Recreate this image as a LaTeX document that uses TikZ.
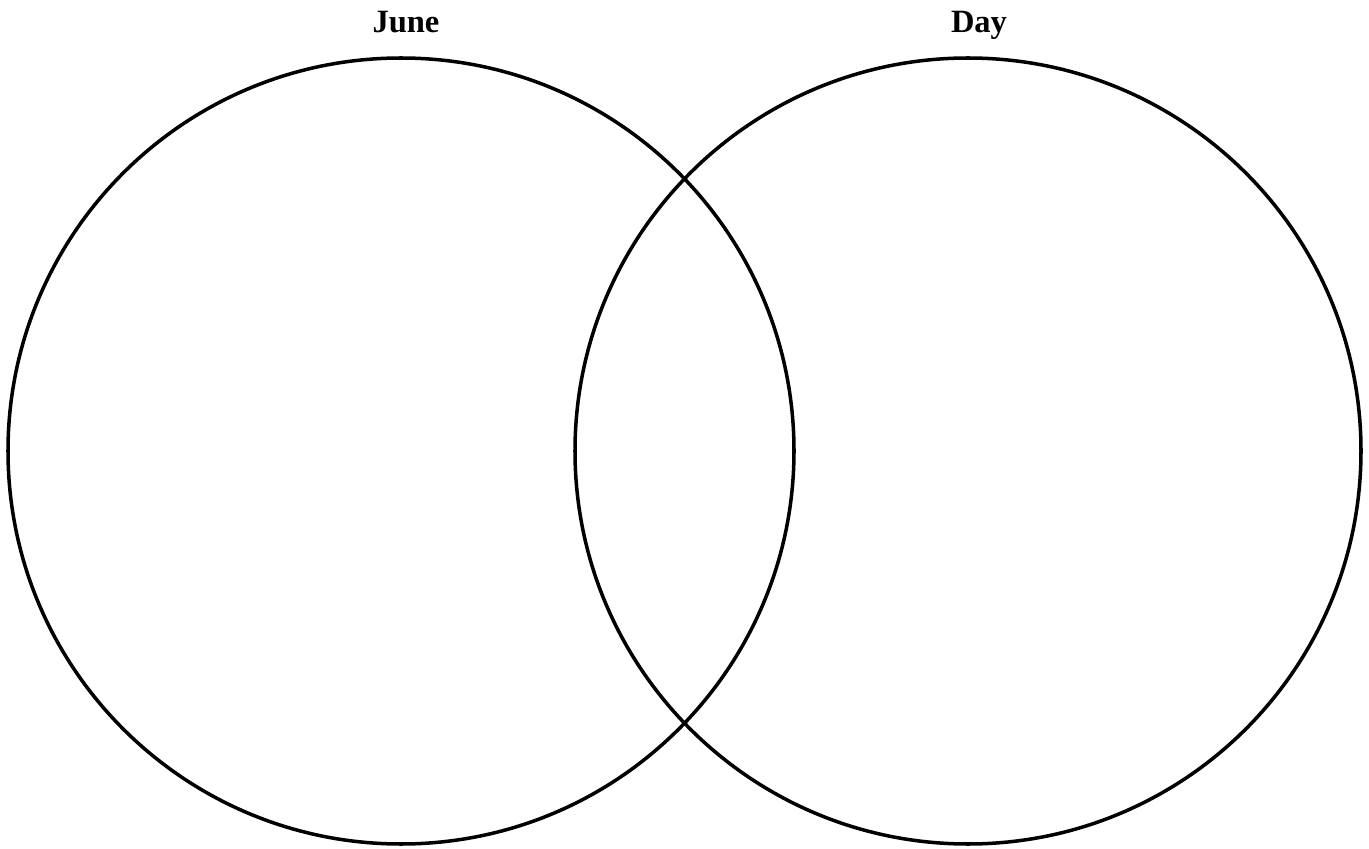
\documentclass[tikz,border=0pt]{standalone}
\usepackage{fontspec}
\setmainfont{Liberation Serif}
\usetikzlibrary{positioning}

\begin{document}
\begin{tikzpicture}[
        % Styles
        setcircle/.style={circle, draw=black, line width=2pt, minimum size=15.72cm, inner sep=0pt},
        settitle/.style={font=\bfseries\fontsize{18.5}{22}\selectfont, anchor=base}
    ]
    \useasboundingbox (0,0) rectangle (27.38,16.96);

    % ================= CIRCLES =================
    \node[setcircle] (june) at (8.02, 7.94) {};
    \node[setcircle] (day) at (19.36, 7.94) {};

    % ================= TITLES =================
    \node[settitle] (junetitle) at (8.12, 16.30) {June};
    \node[settitle] (daytitle) at (19.58, 16.30) {Day};
\end{tikzpicture}
\end{document}
